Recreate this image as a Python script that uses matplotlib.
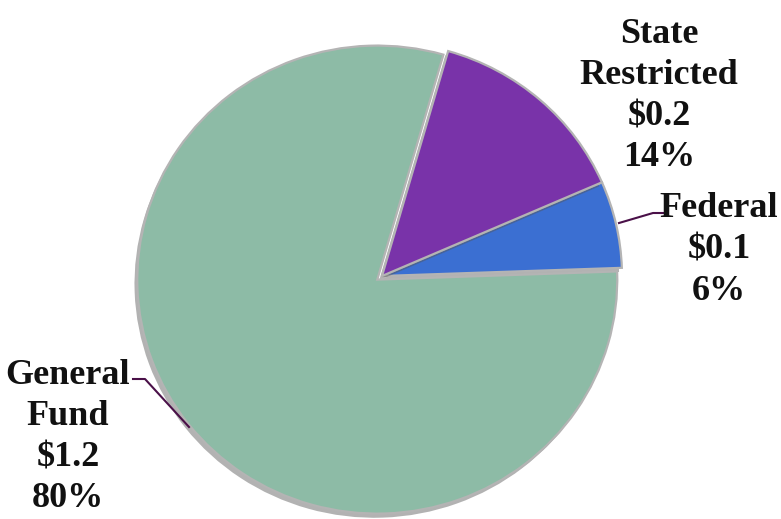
import matplotlib.pyplot as plt
import matplotlib.patheffects as pe

# budget split (billions)
labels = ["Federal", "State\nRestricted", "General\nFund"]
amounts = ["$0.1", "$0.2", "$1.2"]
shares = [6, 14, 80]
colors = ["#3b6fd2", "#7933a9", "#8dbba6"]

W, H = 781, 519
YS = 0.975  # picture is slightly squashed vertically


def px(x, y):
    # pixel position (from top-left) -> data coords
    return x, (H - y) / YS


fig = plt.figure(figsize=(W / 100, H / 100), dpi=100)
ax = fig.add_axes([0, 0, 1, 1])

cx, cy = px(382, 276)
# explode is in data units here because the radius is in pixels
wedges, _ = ax.pie(shares, colors=colors, startangle=2, counterclock=True,
                   radius=240, center=(cx, cy), explode=[0, 0, 6],
                   wedgeprops=dict(edgecolor="#b4b4b4", linewidth=1.6),
                   frame=True)
for w in wedges:
    w.set_path_effects([pe.SimplePatchShadow(offset=(-2, -3), shadow_rgbFace="#555555", alpha=0.45),
                        pe.Normal()])
ax.set_aspect("auto")
ax.set_xlim(0, W)
ax.set_ylim(0, H / YS)
ax.axis("off")

font = dict(family="Liberation Serif", fontweight="bold", fontsize=26,
            color="#111111", linespacing=1.33, ha="center", va="center")

txt = [f"{l}\n{a}\n{s}%" for l, a, s in zip(labels, amounts, shares)]
ax.text(*px(719, 250), txt[0], **font)
ax.text(*px(659, 96), txt[1], **font)
ax.text(*px(68, 437), txt[2], **font)

# leader lines
lc = "#4a1048"
ax.plot(*zip(px(619, 223), px(653, 213), px(663, 213)), color=lc, lw=1.5)
ax.plot(*zip(px(133, 379), px(145, 379), px(189, 427)), color=lc, lw=1.5)

fig.savefig("out.png", dpi=100)
